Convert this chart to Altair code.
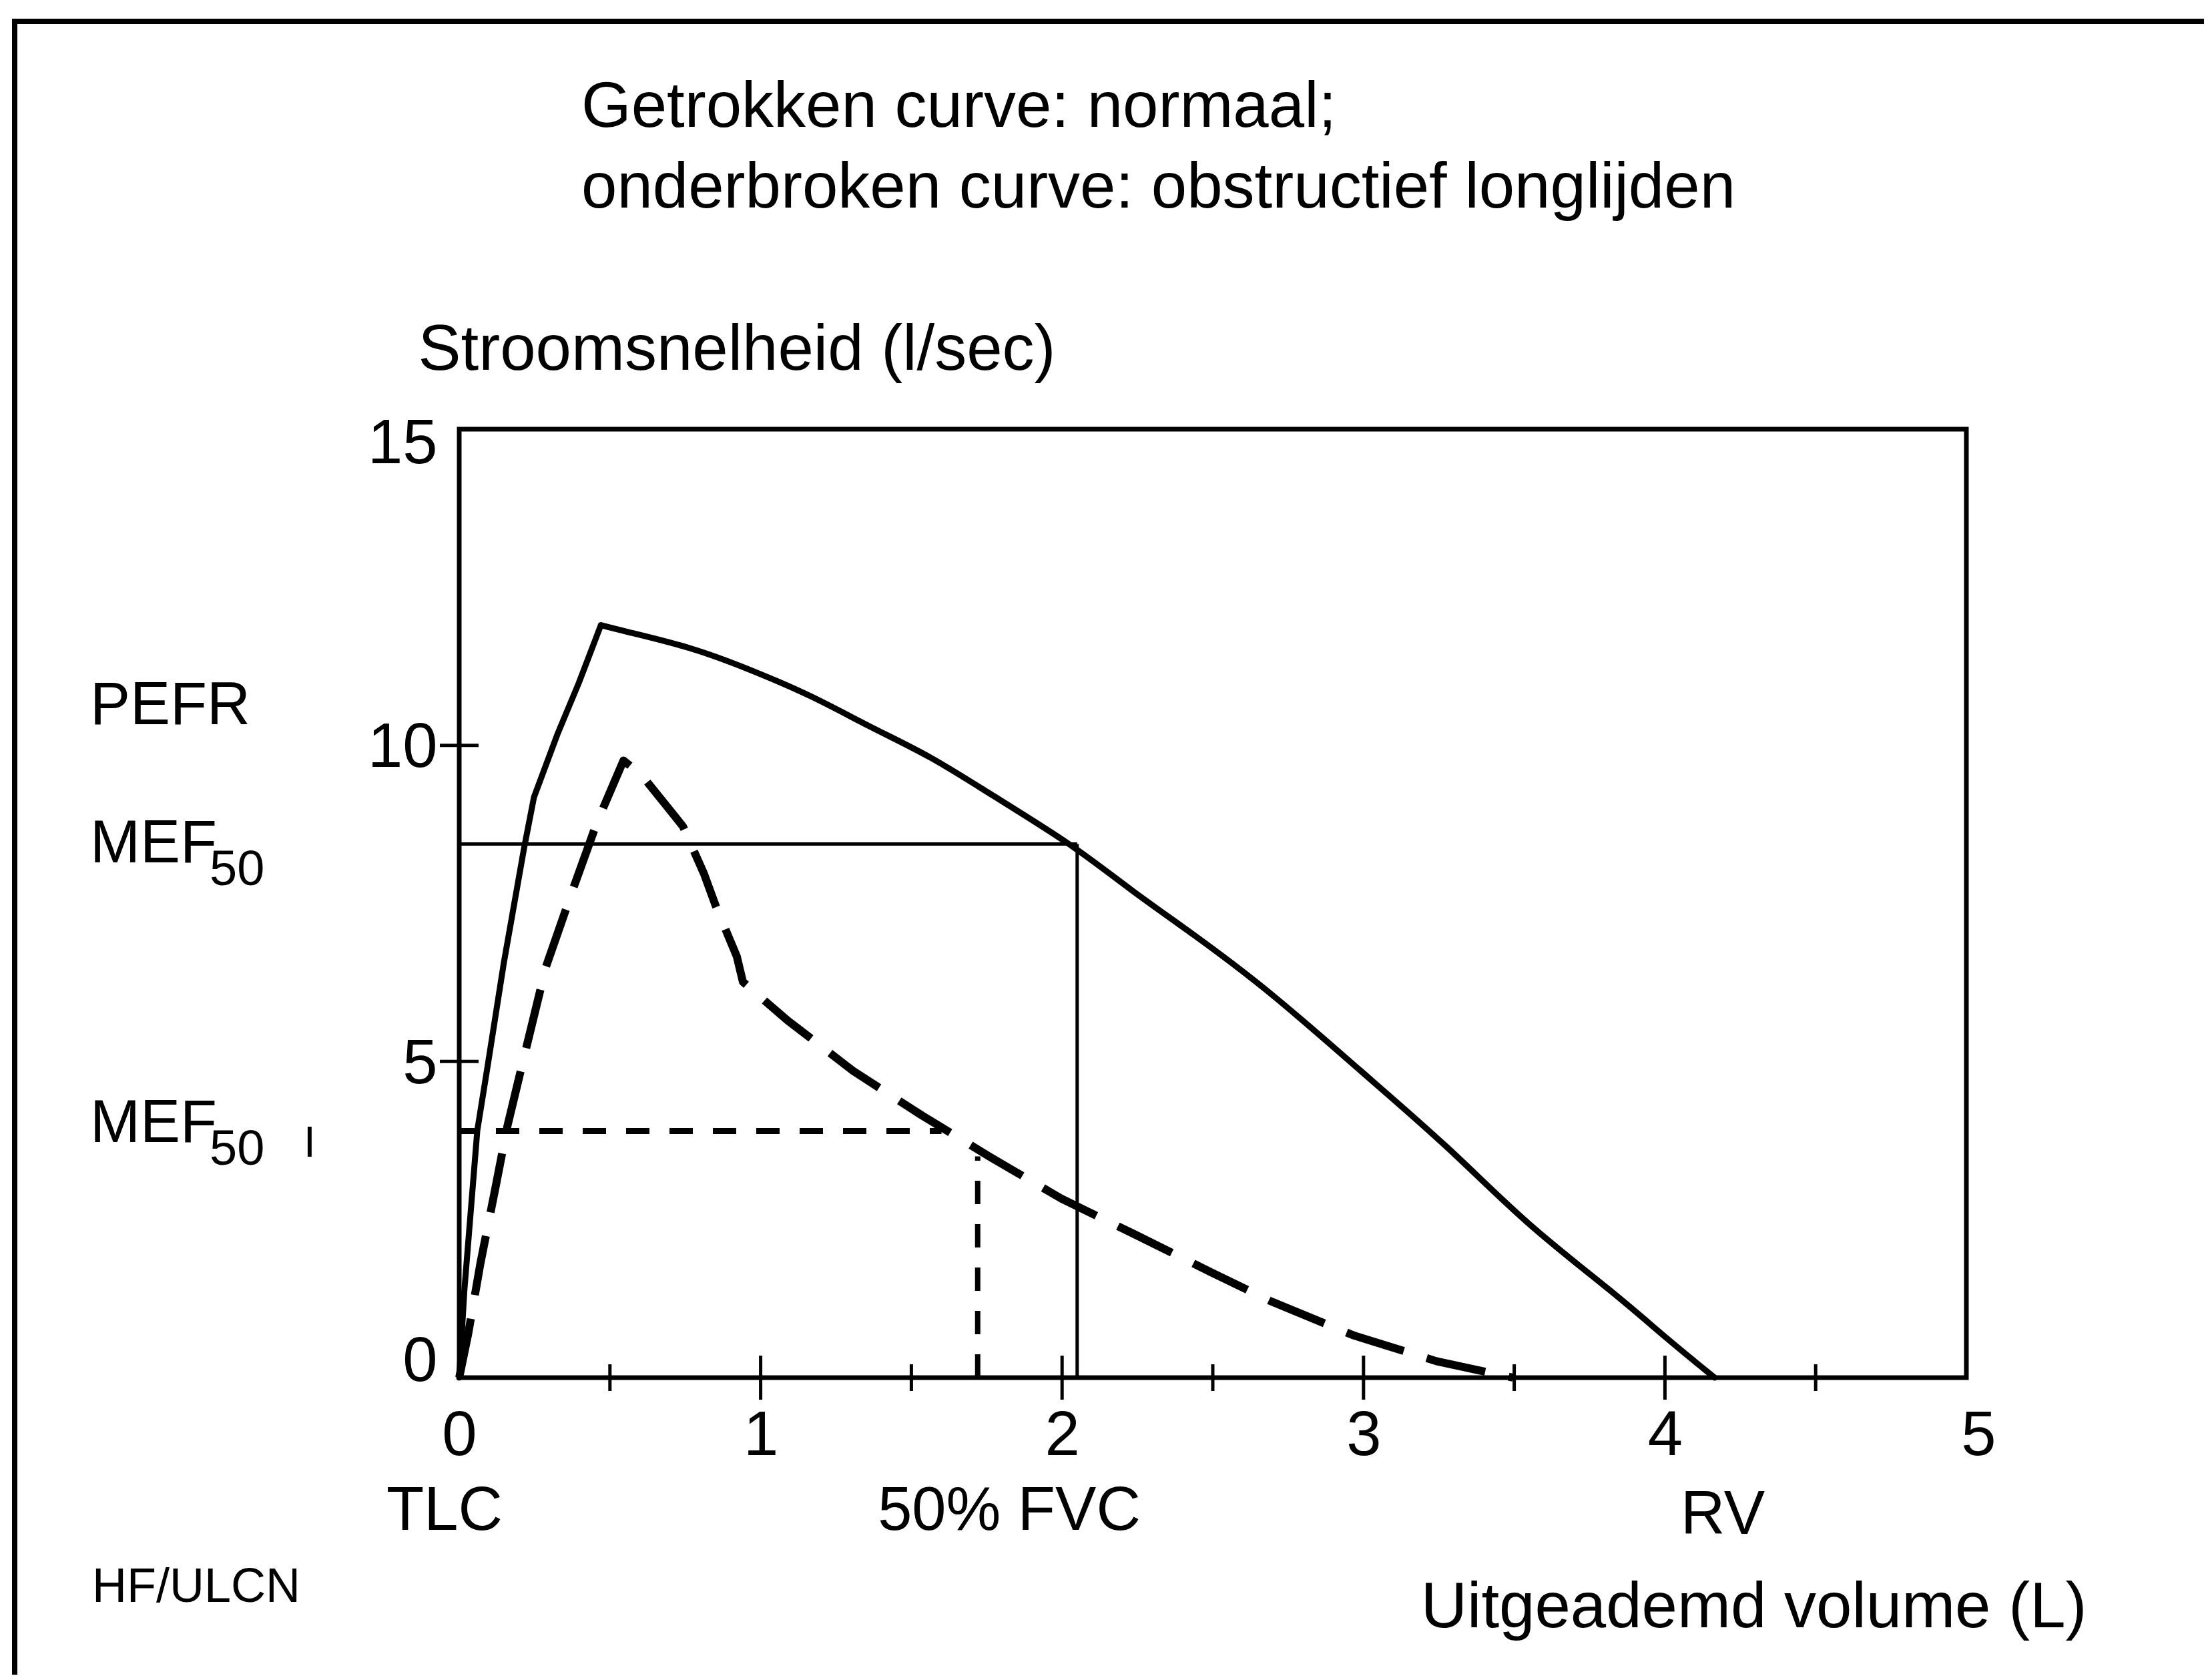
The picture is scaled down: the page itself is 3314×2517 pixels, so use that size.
import altair as alt
import pandas as pd

FONT = "Liberation Sans"

# ---- data ----
normal_volume = [0, 0.017, 0.035, 0.06, 0.095, 0.148, 0.215, 0.248, 0.327, 0.397, 0.47,
                 0.535, 0.773, 0.97, 1.168, 1.366, 1.564, 1.761, 2.038, 2.224, 2.437,
                 2.69, 2.99, 3.285, 3.538, 3.835, 4.005, 4.165]
normal_flow = [0, 1.38, 2.44, 3.91, 4.95, 6.56, 8.37, 9.18, 10.19, 10.99, 11.9,
               11.82, 11.55, 11.19, 10.79, 10.28, 9.83, 9.23, 8.42, 7.72, 7.01,
               6.11, 4.85, 3.64, 2.43, 1.33, 0.62, 0]

obstr_volume = [0, 0.03, 0.07, 0.12, 0.16, 0.219, 0.288, 0.377, 0.457, 0.545, 0.605,
                0.683, 0.742, 0.812, 0.851, 0.921, 0.941, 1.089, 1.307, 1.534, 1.761,
                1.998, 2.235, 2.493, 2.687, 2.966, 3.242, 3.496]
obstr_flow = [0, 0.7, 1.8, 3.0, 3.98, 5.15, 6.5, 7.72, 8.78, 9.76, 9.53,
              9.07, 8.72, 7.97, 7.46, 6.66, 6.26, 5.65, 4.85, 4.15, 3.49,
              2.83, 2.28, 1.67, 1.22, 0.67, 0.26, 0]

# MEF50 construction lines (normal): horizontal at MEF50 up to 50% FVC, vertical down
mef50_normal = 8.44
fvc50_normal = 2.05
# MEF50 construction lines (obstructive)
mef50_obstr = 3.9
mef50_obstr_end = 1.6
fvc50_obstr = 1.72
fvc50_obstr_top = 3.5

x_tick_labels = [0, 1, 2, 3, 4, 5]
y_tick_labels = [0, 5, 10, 15]
x_major_ticks = [1, 2, 3, 4]
x_minor_ticks = [0.5, 1.5, 2.5, 3.5, 4.5]
y_marked_ticks = [5, 10]

title_lines = ["Getrokken curve: normaal;", "onderbroken curve: obstructief longlijden"]
y_title = "Stroomsnelheid (l/sec)"
x_title = "Uitgeademd volume (L)"
left_labels = ["PEFR", "MEF", "MEF"]
subscript = "50"
volume_labels = ["TLC", "50% FVC", "RV"]
credit = "HF/ULCN"

# ---- tables ----
peak_n = normal_flow.index(max(normal_flow))
normal_df = pd.DataFrame({"volume": normal_volume, "flow": normal_flow,
                          "idx": list(range(len(normal_volume)))})
obstr_df = pd.DataFrame({"volume": obstr_volume, "flow": obstr_flow,
                         "idx": list(range(len(obstr_volume)))})
normal_up = normal_df.iloc[:peak_n + 1]
normal_down = normal_df.iloc[peak_n:]
mef_h_df = pd.DataFrame({"volume": [0], "volume_end": [fvc50_normal], "flow": [mef50_normal]})
mef_v_df = pd.DataFrame({"volume": [fvc50_normal], "flow": [0], "flow_end": [mef50_normal]})
mefo_h_df = pd.DataFrame({"volume": [0], "volume_end": [mef50_obstr_end], "flow": [mef50_obstr]})
mefo_v_df = pd.DataFrame({"volume": [fvc50_obstr], "flow": [0], "flow_end": [fvc50_obstr_top]})
major_df = pd.DataFrame({"volume": x_major_ticks, "flow": [0] * len(x_major_ticks)})
minor_df = pd.DataFrame({"volume": x_minor_ticks, "flow": [0] * len(x_minor_ticks)})
ytick_df = pd.DataFrame({"volume": [0] * len(y_marked_ticks), "flow": y_marked_ticks})
dummy = pd.DataFrame({"d": [0]})

W, H = 2258, 1421

x_scale = alt.Scale(domain=[0, 5], nice=False, zero=False)
y_scale = alt.Scale(domain=[0, 15], nice=False)

x_axis = alt.Axis(
    values=x_tick_labels, title=x_title, domain=False, ticks=False, tickSize=0, grid=False,
    labelFontSize=94, labelFont=FONT, labelColor="black", labelPadding=41,
    labelFlush=False, labelOverlap=False, labelBound=False,
    labelOffset={"condition": {"test": "datum.value == 5", "value": 18}, "value": 0},
    titleFontSize=96, titleFont=FONT, titleColor="black", titleFontWeight="normal",
    titleX=2438, titleY=373, titleAlign="right", titleBaseline="alphabetic",
)
y_axis = alt.Axis(
    values=y_tick_labels, title=y_title, domain=False, ticks=False, tickSize=0, grid=False,
    labelFontSize=94, labelFont=FONT, labelColor="black", labelPadding=33,
    labelAlign="right", labelBaseline="middle",
    labelFlush=False, labelOverlap=False, labelBound=False,
    labelOffset={"condition": [{"test": "datum.value == 0", "value": -24},
                               {"test": "datum.value == 15", "value": 22}], "value": 4},
    titleFontSize=96, titleFont=FONT, titleColor="black", titleFontWeight="normal",
    titleAngle=0, titleX=-62, titleY=-90, titleAlign="left", titleBaseline="alphabetic",
)


def X(field):
    return alt.X(field, type="quantitative", scale=x_scale, axis=x_axis)


def Y(field):
    return alt.Y(field, type="quantitative", scale=y_scale, axis=y_axis)


normal_up_line = alt.Chart(normal_up).mark_line(
    color="black", strokeWidth=9, strokeJoin="round", strokeCap="round", interpolate="linear"
).encode(x=X("volume"), y=Y("flow"), order=alt.Order("idx:Q"))
normal_down_line = alt.Chart(normal_down).mark_line(
    color="black", strokeWidth=9, strokeJoin="round", strokeCap="round", interpolate="basis"
).encode(x=X("volume"), y=Y("flow"), order=alt.Order("idx:Q"))

obstr_line = alt.Chart(obstr_df).mark_line(
    color="black", strokeWidth=12, strokeDash=[90, 36], strokeCap="butt", strokeJoin="round"
).encode(x=X("volume"), y=Y("flow"), order=alt.Order("idx:Q"))

mef_h = alt.Chart(mef_h_df).mark_rule(color="black", strokeWidth=5).encode(
    x=X("volume"), x2="volume_end", y=Y("flow"))
mef_v = alt.Chart(mef_v_df).mark_rule(color="black", strokeWidth=5).encode(
    x=X("volume"), y=Y("flow"), y2="flow_end")
mefo_h = alt.Chart(mefo_h_df).mark_rule(
    color="black", strokeWidth=9, strokeDash=[35, 30], strokeDashOffset=10).encode(
    x=X("volume"), x2="volume_end", y=Y("flow"))
mefo_v = alt.Chart(mefo_v_df).mark_rule(
    color="black", strokeWidth=8, strokeDash=[35, 30]).encode(
    x=X("volume"), y=Y("flow"), y2="flow_end")

major_ticks = alt.Chart(major_df).mark_tick(
    orient="vertical", size=66, thickness=5, color="black", opacity=1).encode(
    x=X("volume"), y=Y("flow"))
minor_ticks = alt.Chart(minor_df).mark_tick(
    orient="vertical", size=40, thickness=5, color="black", opacity=1).encode(
    x=X("volume"), y=Y("flow"))
y_ticks = alt.Chart(ytick_df).mark_tick(
    orient="horizontal", size=58, thickness=5, color="black", opacity=1).encode(
    x=X("volume"), y=Y("flow"))

# outer figure frame (decoration)
frame_top = alt.Chart(dummy).mark_rule(color="black", strokeWidth=8).encode(
    x=alt.value(-668), x2=alt.value(2614), y=alt.value(-611))
frame_left = alt.Chart(dummy).mark_rule(color="black", strokeWidth=8).encode(
    x=alt.value(-666), y=alt.value(-615), y2=alt.value(1866))


def label(txt, x, y, size, align="left"):
    return alt.Chart(dummy).mark_text(
        text=txt, font=FONT, fontSize=size, align=align, baseline="alphabetic", color="black"
    ).encode(x=alt.value(x), y=alt.value(y))


texts = [
    label(title_lines[0], 183, -453, 96),
    label(title_lines[1], 183, -332, 96),
    label(left_labels[0], -553, 442, 90),
    label(left_labels[1], -553, 649, 90),
    label(subscript, -374, 683, 74),
    label(left_labels[2], -553, 1068, 90),
    label(subscript, -374, 1102, 74),
    label("I", -224, 1090, 64, "center"),
    label(volume_labels[0], -22, 1649, 92, "center"),
    label(volume_labels[1], 824, 1649, 92, "center"),
    label(volume_labels[2], 1893, 1655, 92, "center"),
    label(credit, -550, 1757, 72),
]

chart = alt.layer(
    frame_top, frame_left,
    mef_h, mef_v, mefo_h, mefo_v,
    normal_up_line, normal_down_line, obstr_line,
    major_ticks, minor_ticks, y_ticks,
    *texts,
).properties(
    width=W, height=H,
    padding={"left": 8, "top": 16, "right": 0, "bottom": 0},
    background="white",
).configure_view(
    stroke="black", strokeWidth=7
)

chart.save("out.html", embed_options={"renderer": "svg", "actions": False})
